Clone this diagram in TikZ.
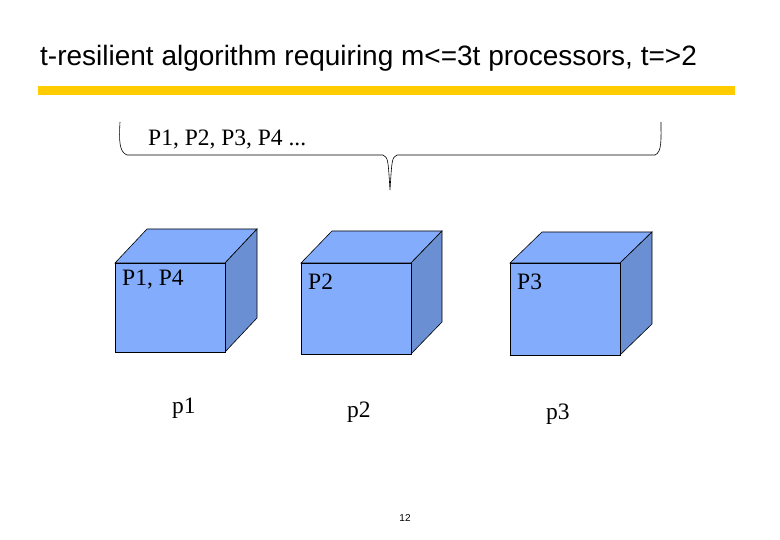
\documentclass[tikz,border=0pt]{standalone}
\usepackage{fontspec}
\setmainfont{Liberation Serif}
\newfontfamily\sans{Liberation Sans}
\begin{document}
\begin{tikzpicture}[x=1pt,y=-1pt,
  front/.style={fill=cubefront,draw=black,line width=0.6pt},
  side/.style={fill=cubeside,draw=black,line width=0.6pt},
  lbl/.style={font=\fontsize{23.5}{24}\selectfont,inner sep=0pt,anchor=west}]
\definecolor{cubefront}{HTML}{84ACFC}
\definecolor{cubeside}{HTML}{6A8FD2}
\definecolor{bar}{HTML}{FFCC00}
\useasboundingbox (0,0) rectangle (780,540);
\node[inner sep=0pt,anchor=west,font=\sans\fontsize{28}{28}\selectfont] (title) at (40,58) {t-resilient algorithm requiring m<=3t processors, t=>2};
\fill[bar] (38,86) rectangle (735,95);
\draw[line width=0.6pt] (120,122) .. controls (119,140) and (119,152) .. (127,155) -- (383,155) .. controls (388,158) .. (390,190) .. controls (392,158) .. (397,155) -- (655,155) .. controls (662,152) and (661,140) .. (661,122);
\node[lbl] (all) at (148,140) {P1, P2, P3, P4 ...};
\foreach \x/\y/\dx/\dy/\n in {115/352/32/34/a,301/354/31/32/b,510/355/32/31/c}{
  \path[front] (\x,263) -- (\x+\dx,263-\dy) -- (\x+110+\dx,263-\dy) -- (\x+110,263) -- cycle;
  \path[side] (\x+110,263) -- (\x+110+\dx,263-\dy) -- (\x+110+\dx,\y-\dy) -- (\x+110,\y) -- cycle;
  \path[front] (\x,263) rectangle (\x+110,\y);
  \coordinate (\n) at (\x,263);
}
\node[lbl] (l1) at (122,280) {P1, P4};
\node[lbl] (l2) at (308,282) {P2};
\node[lbl] (l3) at (517,282) {P3};
\node[lbl] (p1) at (172,408) {p1};
\node[lbl] (p2) at (347,412) {p2};
\node[lbl] (p3) at (546,414) {p3};
\node[inner sep=0pt,font=\sans\fontsize{10}{10}\selectfont] (pg) at (405,518) {12};
\end{tikzpicture}
\end{document}
